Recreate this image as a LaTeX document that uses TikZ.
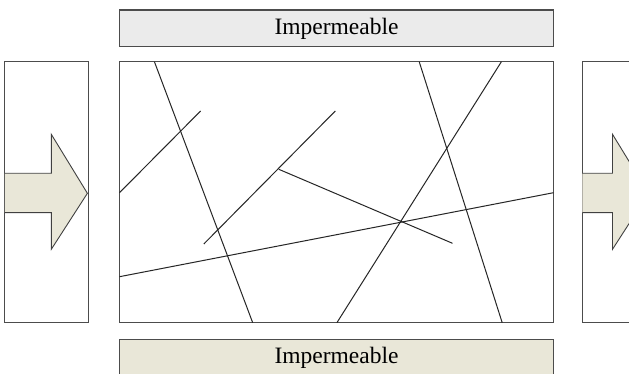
\documentclass[tikz,border=0pt]{standalone}
\usepackage{fontspec}
\setmainfont{Liberation Serif}
\begin{document}
\begin{tikzpicture}[x=1pt,y=-1pt,
  frame/.style={draw=black!70, line width=1.2pt},
  frac/.style={draw=black!85, line width=1pt},
  arrowfill/.style={draw=black!75, line width=0.9pt, fill=beige},
  label/.style={font=\fontsize{23.5}{26}\selectfont, text=black}]
\definecolor{beige}{HTML}{E9E7D8}
\definecolor{lightgray}{HTML}{EBEBEB}
\useasboundingbox (0,0) rectangle (629,374);
\clip (0,0) rectangle (629,374);
% top impermeable
\draw[frame, fill=lightgray] (119.5,10) rectangle (553.5,46.5);
\node[label] (top) at (336.5,28.5) {Impermeable};
% bottom impermeable
\draw[frame, fill=beige] (119.5,339.5) rectangle (553.5,380);
\node[label] (bot) at (336.5,357.5) {Impermeable};
% left box and arrow
\draw[frame] (4.8,61.7) rectangle (88.2,322.7);
\draw[arrowfill] (4.8,173.3) -- (51.3,173.3) -- (51.3,134.3) -- (87.4,193.3)
  -- (51.3,249.3) -- (51.3,212.7) -- (4.8,212.7);
% right box and arrow
\draw[frame] (582.4,61.7) rectangle (680,322.7);
\draw[arrowfill] (582.4,173.3) -- (612.5,173.3) -- (612.5,134.3) -- (648.6,193.3)
  -- (612.5,249.3) -- (612.5,212.7) -- (582.4,212.7);
% main domain
\draw[frame, fill=white] (119.5,61.7) rectangle (553.5,322.7);
% fractures
\draw[frac] (154.4,61.7) -- (252.7,322.7);
\draw[frac] (419.2,61.7) -- (502.2,322.7);
\draw[frac] (501.4,61.7) -- (336.9,322.7);
\draw[frac] (119.5,192.7) -- (200.6,111);
\draw[frac] (203.8,244) -- (335.3,111);
\draw[frac] (278.8,169.3) -- (452.5,243.3);
\draw[frac] (119.5,276.7) -- (553.5,192.7);
\end{tikzpicture}
\end{document}
